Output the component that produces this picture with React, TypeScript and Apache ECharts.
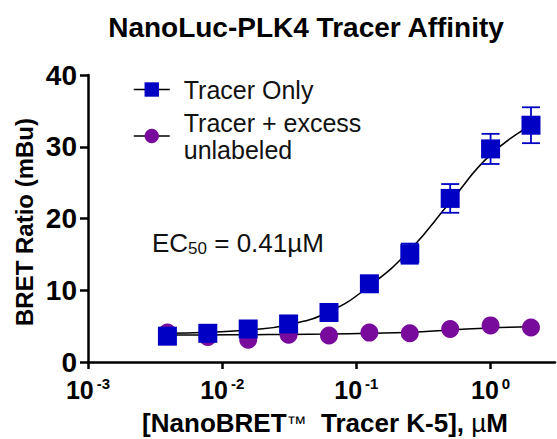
import React, { useEffect, useRef } from "react";
import * as echarts from "echarts";

// concentrations in µM (2-fold dilution series)
const concentrations = [0.00390625, 0.0078125, 0.015625, 0.03125, 0.0625, 0.125, 0.25, 0.5, 1, 2];
// Tracer only (mean BRET, mBu) and error (±)
const tracerOnly = [3.6, 4.0, 4.6, 5.3, 6.9, 10.9, 15.1, 22.8, 29.7, 33.0];
const tracerOnlyErr = [0.3, 0.3, 0.4, 0.4, 0.5, 0.5, 1.4, 2.0, 2.1, 2.5];
// Tracer + excess unlabeled
const tracerExcess = [4.1, 3.5, 3.1, 3.8, 3.7, 4.1, 4.0, 4.6, 5.1, 4.8];
// Fitted curves
const tracerOnlyFit = [4.0, 4.15, 4.45, 5.2, 7.0, 10.6, 15.6, 22.3, 28.9, 33.0];
const tracerExcessFit = [3.75, 3.77, 3.8, 3.85, 3.9, 4.0, 4.15, 4.45, 4.75, 4.9];
// x-axis decade tick exponents
const xTickExponents = [-3, -2, -1, 0];
const yTicks = [0, 10, 20, 30, 40];

const BLUE = "#0000C4";
const PURPLE = "#780A9C";
const FONT = "Liberation Sans, Arial, Helvetica, sans-serif";

export default function App() {
  const ref = useRef<HTMLDivElement>(null);
  useEffect(() => {
    if (!ref.current) return;
    const chart = echarts.init(ref.current, undefined, { renderer: "svg" });
    const lx = concentrations.map((c) => Math.log10(c));
    const pts = (ys: number[]) => lx.map((x, i) => [x, ys[i]]);
    const errData = lx.map((x, i) => [x, tracerOnly[i] - tracerOnlyErr[i], tracerOnly[i] + tracerOnlyErr[i]]);

    chart.setOption({
      animation: false,
      backgroundColor: "#ffffff",
      grid: { left: 88, right: 2, top: 75, bottom: 77 },
      xAxis: {
        type: "value",
        min: -3,
        max: 0.48,
        interval: 1,
        splitLine: { show: false },
        axisLine: { show: true, onZero: false, lineStyle: { color: "#000", width: 2.5 } },
        axisTick: { show: true, length: 7, lineStyle: { color: "#000", width: 2.5 }, customValues: xTickExponents },
        axisLabel: {
          customValues: xTickExponents,
          margin: 14,
          formatter: (v: number) => `{b|10}{s|${v}}`,
          rich: {
            b: { fontSize: 25, fontWeight: "bold", fontFamily: FONT, color: "#000", lineHeight: 28 },
            s: { fontSize: 15, fontWeight: "bold", fontFamily: FONT, color: "#000", lineHeight: 15, verticalAlign: "top", padding: [0, 0, 0, 3] },
          },
        },
      },
      yAxis: {
        type: "value",
        min: 0,
        max: 40,
        interval: 10,
        splitLine: { show: false },
        axisLine: { show: true, onZero: false, lineStyle: { color: "#000", width: 2.5 } },
        axisTick: { show: true, length: 8, lineStyle: { color: "#000", width: 2.5 } },
        axisLabel: {
          margin: 11,
          fontSize: 28,
          fontWeight: "bold",
          fontFamily: FONT,
          color: "#000",
          formatter: (v: number) => (yTicks.includes(v) ? String(v) : ""),
        },
      },
      legend: {
        orient: "vertical",
        left: 128,
        top: 71,
        itemGap: 6,
        itemWidth: 36,
        itemHeight: 18,
        selectedMode: false,
        data: ["Tracer Only", "Tracer + excess\nunlabeled"],
        lineStyle: { color: "#000", width: 1.5, opacity: 1, type: "solid" },
        textStyle: { fontSize: 25, fontFamily: FONT, color: "#111", lineHeight: 27, padding: [0, 0, 0, 9] },
      },
      series: [
        {
          name: "excessFit",
          type: "line",
          data: pts(tracerExcessFit),
          smooth: true,
          showSymbol: false,
          symbol: "none",
          silent: true,
          lineStyle: { color: "#000", width: 1.5 },
          z: 1,
        },
        {
          name: "onlyFit",
          type: "line",
          data: pts(tracerOnlyFit),
          smooth: true,
          showSymbol: false,
          symbol: "none",
          silent: true,
          lineStyle: { color: "#000", width: 1.5 },
          z: 1,
        },
        {
          name: "errors",
          type: "custom",
          data: errData,
          z: 2,
          silent: true,
          renderItem: (params: any, api: any) => {
            const x = api.value(0);
            const lo = api.coord([x, api.value(1)]);
            const hi = api.coord([x, api.value(2)]);
            const w = 9;
            const style = { stroke: BLUE, lineWidth: 1.8 };
            return {
              type: "group",
              children: [
                { type: "line", shape: { x1: lo[0], y1: lo[1], x2: hi[0], y2: hi[1] }, style },
                { type: "line", shape: { x1: lo[0] - w, y1: lo[1], x2: lo[0] + w, y2: lo[1] }, style },
                { type: "line", shape: { x1: hi[0] - w, y1: hi[1], x2: hi[0] + w, y2: hi[1] }, style },
              ],
            };
          },
        },
        {
          name: "Tracer + excess\nunlabeled",
          type: "line",
          data: pts(tracerExcess),
          symbol: "circle",
          symbolSize: 18,
          showSymbol: true,
          itemStyle: { color: PURPLE },
          lineStyle: { width: 0, color: "#000" },
          z: 3,
        },
        {
          name: "Tracer Only",
          type: "line",
          data: pts(tracerOnly),
          symbol: "rect",
          symbolSize: 19,
          showSymbol: true,
          itemStyle: { color: BLUE },
          lineStyle: { width: 0, color: "#000" },
          z: 4,
        },
      ],
      graphic: [
        {
          type: "text",
          x: 306,
          y: 27,
          style: {
            text: "NanoLuc-PLK4 Tracer Affinity",
            font: `bold 28px ${FONT}`,
            fill: "#000",
            align: "center",
            verticalAlign: "middle",
          },
        },
        {
          type: "text",
          x: 24,
          y: 222,
          rotation: Math.PI / 2,
          style: {
            text: "BRET Ratio (mBu)",
            font: `bold 24px ${FONT}`,
            fill: "#000",
            align: "center",
            verticalAlign: "middle",
          },
        },
        {
          type: "text",
          x: 325,
          y: 423,
          style: {
            text: "{a|[NanoBRET}{t|™}{a|  Tracer K-5], }{m|µ}{a|M}",
            align: "center",
            verticalAlign: "middle",
            rich: {
              a: { fontSize: 26, fontWeight: "bold", fontFamily: FONT, fill: "#000", lineHeight: 30 },
              t: { fontSize: 20, fontWeight: "normal", fontFamily: FONT, fill: "#000", lineHeight: 30 },
              m: { fontSize: 26, fontWeight: "normal", fontFamily: FONT, fill: "#000", lineHeight: 30 },
            },
          },
        },
        {
          type: "text",
          x: 152,
          y: 243,
          style: {
            text: "{a|EC}{s|50}{a| = 0.41µM}",
            align: "left",
            verticalAlign: "middle",
            rich: {
              a: { fontSize: 26, fontFamily: FONT, fill: "#111", lineHeight: 28 },
              s: { fontSize: 17, fontFamily: FONT, fill: "#111", lineHeight: 17, verticalAlign: "bottom" },
            },
          },
        },
      ],
    });
    return () => chart.dispose();
  }, []);
  return <div ref={ref} style={{ position: "fixed", left: 0, top: 0, width: 557, height: 439 }} />;
}
